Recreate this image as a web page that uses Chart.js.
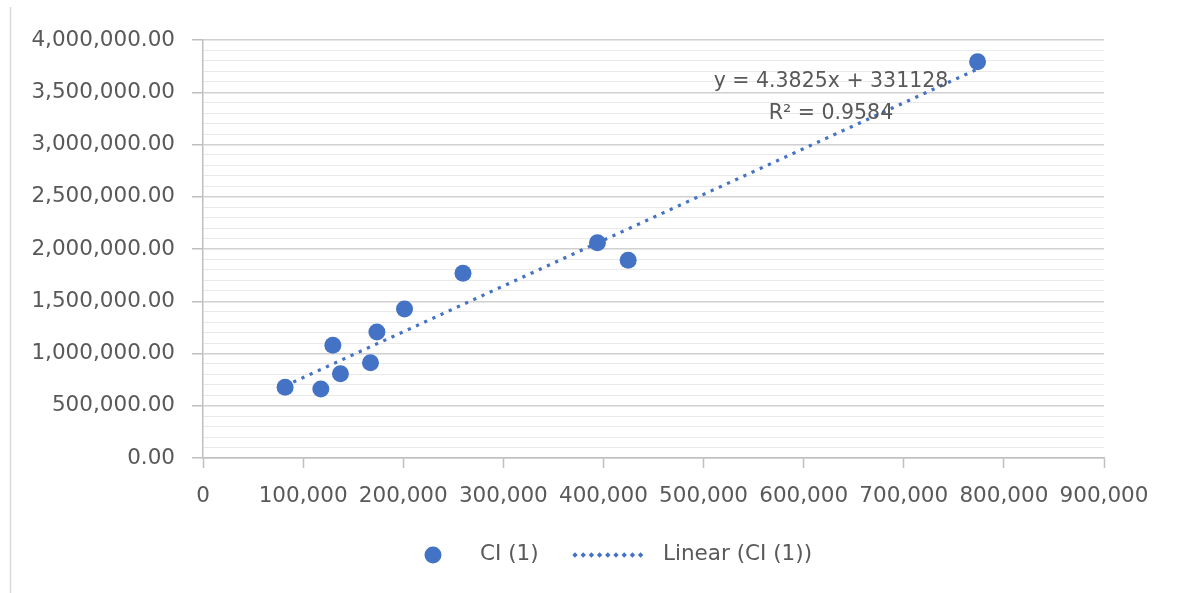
<!DOCTYPE html>
<html>
<head>
<meta charset="utf-8">
<title>CI (1)</title>
<script src="https://cdn.jsdelivr.net/npm/chart.js@4/dist/chart.umd.min.js"></script>
<style>
  html, body { margin: 0; padding: 0; background: #ffffff; }
  #wrap { width: 1178px; height: 593px; position: relative; }
</style>
</head>
<body>
<div id="wrap"><canvas id="c" width="1178" height="593"></canvas></div>
<script>
// Observations of CI (1)
const xValues = [82000, 117700, 129700, 137300, 167300, 173700, 201300, 259700, 394000, 424700, 773700];
const yValues = [676000, 660000, 1078000, 807000, 912000, 1206000, 1426000, 1767000, 2060000, 1892000, 3792000];

// Linear trendline as stated in the chart label
const trendSlope = 4.3825;
const trendIntercept = 331128;
const trendR2 = 0.9584;

const seriesName = 'CI (1)';
const trendName = 'Linear (CI (1))';

const xTicks = { min: 0, max: 900000, step: 100000 };
const yTicks = { min: 0, max: 4000000, majorStep: 500000, minorStep: 100000 };

const BLUE = '#4472C4';
const TEXT = '#595959';
const FONT = 'DejaVu Sans';

const points = xValues.map((x, i) => ({ x: x, y: yValues[i] }));
const xLo = Math.min(...xValues), xHi = Math.max(...xValues);
const trendPoints = [xLo, xHi].map(x => ({ x: x, y: trendSlope * x + trendIntercept }));

const fmtY = v => v.toLocaleString('en-US', { minimumFractionDigits: 2, maximumFractionDigits: 2 });
const fmtX = v => v.toLocaleString('en-US');

// Frame line, equation text and legend
const decorations = {
  id: 'decorations',
  afterDraw(chart) {
    const ctx = chart.ctx;
    ctx.save();
    // left edge of the chart frame
    ctx.strokeStyle = '#d9d9d9';
    ctx.lineWidth = 1.5;
    ctx.beginPath();
    ctx.moveTo(10.5, 7);
    ctx.lineTo(10.5, 593);
    ctx.stroke();

    // trendline equation
    ctx.fillStyle = TEXT;
    ctx.font = '20.5px "' + FONT + '"';
    ctx.textAlign = 'center';
    ctx.textBaseline = 'middle';
    ctx.fillText('y = ' + trendSlope + 'x + ' + trendIntercept, 831, 82);
    ctx.fillText('R\u00B2 = ' + trendR2, 831, 114);

    // legend
    const ly = 555;
    ctx.font = '21.5px "' + FONT + '"';
    ctx.textAlign = 'left';
    ctx.fillStyle = BLUE;
    ctx.beginPath();
    ctx.arc(433, ly, 8.5, 0, Math.PI * 2);
    ctx.fill();
    ctx.fillStyle = TEXT;
    ctx.fillText(chart.data.datasets[0].label, 480, ly - 1);

    ctx.fillStyle = BLUE;
    for (let x = 575; x <= 648; x += 8.2) {
      ctx.beginPath();
      ctx.moveTo(x, ly - 2.7);
      ctx.lineTo(x + 2.7, ly);
      ctx.lineTo(x, ly + 2.7);
      ctx.lineTo(x - 2.7, ly);
      ctx.closePath();
      ctx.fill();
    }
    ctx.fillStyle = TEXT;
    ctx.fillText(chart.data.datasets[1].label, 663, ly - 1);
    ctx.restore();
  }
};

new Chart(document.getElementById('c'), {
  type: 'scatter',
  data: {
    datasets: [
      {
        label: seriesName,
        data: points,
        backgroundColor: BLUE,
        borderColor: BLUE,
        borderWidth: 0,
        pointRadius: 8.5,
        pointHoverRadius: 8.5,
        order: 0
      },
      {
        label: trendName,
        type: 'line',
        data: trendPoints,
        borderColor: BLUE,
        borderWidth: 3.2,
        borderDash: [3.2, 5.8],
        pointRadius: 0,
        fill: false,
        order: 1
      }
    ]
  },
  options: {
    responsive: false,
    animation: false,
    devicePixelRatio: 1,
    layout: { padding: { left: 0, right: 74, top: 40, bottom: 0 } },
    plugins: {
      legend: { display: false },
      tooltip: { enabled: false },
      title: { display: false }
    },
    scales: {
      x: {
        type: 'linear',
        min: xTicks.min,
        max: xTicks.max,
        afterFit(s) { s.height = 135; },
        border: { display: true, color: '#bfbfbf', width: 1.5 },
        grid: {
          drawOnChartArea: false,
          drawTicks: true,
          tickLength: 10,
          tickColor: '#bfbfbf',
          tickWidth: 1.5
        },
        ticks: {
          stepSize: xTicks.step,
          autoSkip: false,
          maxRotation: 0,
          padding: 16,
          color: TEXT,
          font: { family: FONT, size: 21.5 },
          callback: v => fmtX(v)
        }
      },
      y: {
        type: 'linear',
        min: yTicks.min,
        max: yTicks.max,
        afterFit(s) { s.width = 203; },
        border: { display: true, color: '#bfbfbf', width: 1.5 },
        grid: {
          drawTicks: true,
          tickLength: 11,
          tickWidth: 1.5,
          lineWidth: ctx => (ctx.tick && ctx.tick.value % yTicks.majorStep === 0) ? 1.5 : 1,
          color: ctx => (ctx.tick && ctx.tick.value % yTicks.majorStep === 0) ? '#d0d0d0' : '#e9e9e9',
          tickColor: ctx => (ctx.tick && ctx.tick.value % yTicks.majorStep === 0) ? '#bfbfbf' : 'rgba(0,0,0,0)'
        },
        ticks: {
          stepSize: yTicks.minorStep,
          autoSkip: false,
          padding: 17,
          color: TEXT,
          font: { family: FONT, size: 21.5 },
          callback: v => (v % yTicks.majorStep === 0) ? fmtY(v) : ''
        }
      }
    }
  },
  plugins: [decorations]
});
</script>
</body>
</html>
